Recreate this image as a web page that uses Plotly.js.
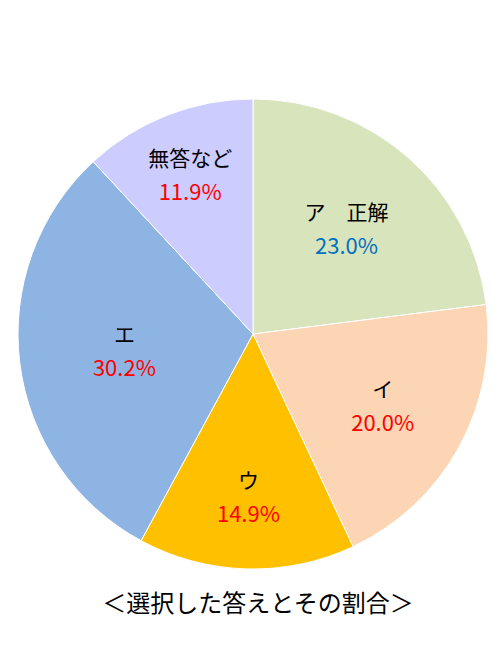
<!DOCTYPE html>
<html>
<head>
<meta charset="utf-8">
<script src="https://cdn.plot.ly/plotly-3.0.1.min.js"></script>
<style>
  html, body { margin: 0; padding: 0; background: #fff; }
  #chart { width: 500px; height: 660px; }
</style>
</head>
<body>
<div id="chart"></div>
<script>
// 選択肢ごとの割合 (%)
let labels = ['ア　正解', 'イ', 'ウ', 'エ', '無答など'];
let values = [23.0, 20.0, 14.9, 30.2, 11.9];
let sliceColors = ['#D8E4BC', '#FCD5B4', '#FFC000', '#8DB4E2', '#CCCCFF'];
let pctColors = ['#0070C0', '#FF0000', '#FF0000', '#FF0000', '#FF0000'];

// 行間を広げるため外側フォントは大きめ、中身はspanで小さくする
let texts = labels.map((l, i) =>
    '<span style="font-size:21px">' + l + '</span><br>' +
    '<span style="font-size:22px;color:' + pctColors[i] + '">' + values[i].toFixed(1) + '%</span>');

let trace = {
    type: 'pie',
    labels: labels,
    values: values,
    text: texts,
    textinfo: 'text',
    textposition: 'inside',
    insidetextorientation: 'horizontal',
    sort: false,
    direction: 'clockwise',
    rotation: 0,
    marker: {
        colors: sliceColors,
        line: { color: '#ffffff', width: 1 }
    },
    insidetextfont: { family: 'Noto Sans CJK JP, sans-serif', size: 26, color: '#000' },
    hoverinfo: 'none',
    domain: { x: [18 / 500, 488 / 500], y: [91 / 660, 561 / 660] }
};

let layout = {
    width: 500,
    height: 660,
    margin: { l: 0, r: 0, t: 0, b: 0 },
    showlegend: false,
    paper_bgcolor: '#ffffff',
    title: {
        text: '＜選択した答えとその割合＞',
        font: { family: 'Noto Sans CJK JP, sans-serif', size: 24, color: '#000' },
        x: 0.516,
        xanchor: 'center',
        y: 1 - 604 / 660,
        yref: 'container',
        yanchor: 'middle'
    }
};

Plotly.newPlot('chart', [trace], layout, { displayModeBar: false, staticPlot: true });
</script>
</body>
</html>
